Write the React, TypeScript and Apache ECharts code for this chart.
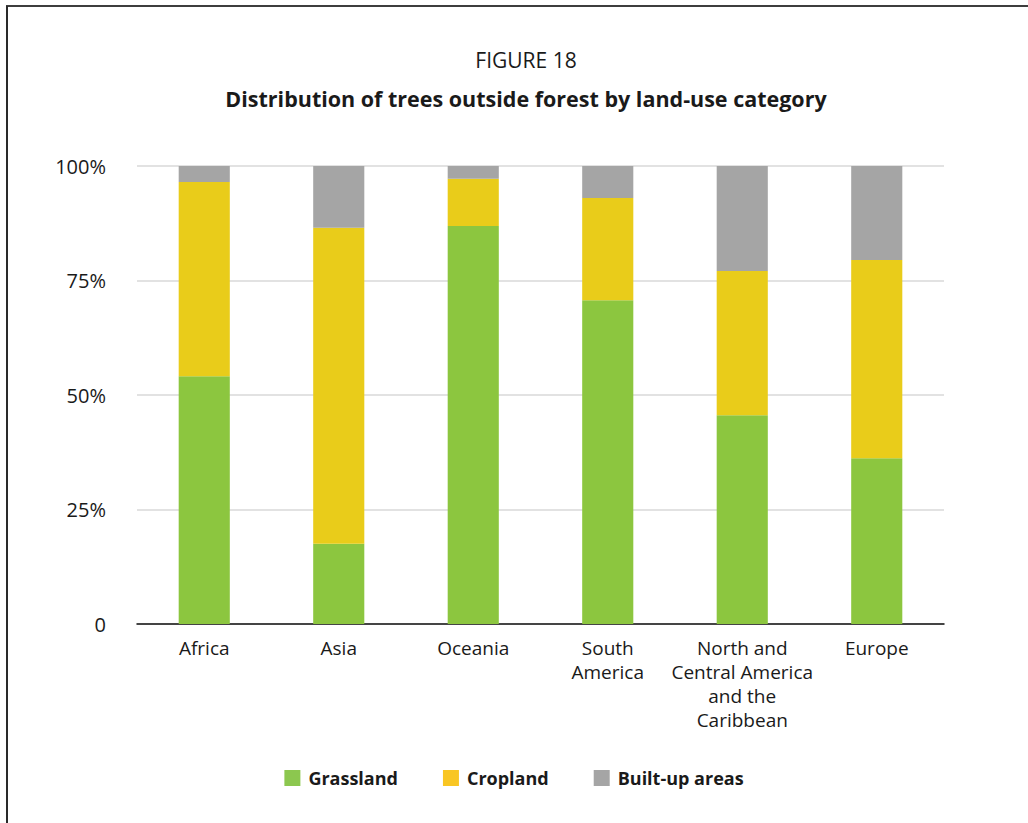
import React, { useEffect, useRef } from "react";
import * as echarts from "echarts";

const regions = [
  "Africa",
  "Asia",
  "Oceania",
  "South\nAmerica",
  "North and\nCentral America\nand the\nCaribbean",
  "Europe",
];
const grassland = [54.1, 17.5, 86.9, 70.7, 45.6, 36.2];
const cropland = [42.4, 69.0, 10.3, 22.3, 31.5, 43.3];
const builtUp = [3.5, 13.5, 2.8, 7.0, 22.9, 20.5];

const FONT = "'Open Sans', 'Noto Sans', sans-serif";
const TEXT = "#1a1a1a";

export default function App() {
  const ref = useRef<HTMLDivElement>(null);

  useEffect(() => {
    if (!ref.current) return;
    const chart = echarts.init(ref.current, null, { renderer: "svg" });
    chart.setOption({
      animation: false,
      backgroundColor: "#ffffff",
      textStyle: { fontFamily: FONT, color: TEXT },
      title: [
        {
          text: "FIGURE 18",
          left: 521,
          textAlign: "center",
          top: 44,
          textStyle: { fontFamily: FONT, fontSize: 21, fontWeight: "normal", color: TEXT },
        },
        {
          text: "Distribution of trees outside forest by land-use category",
          left: 521,
          textAlign: "center",
          top: 82,
          textStyle: { fontFamily: FONT, fontSize: 21.5, fontWeight: "bold", color: TEXT },
        },
      ],
      graphic: [
        { type: "line", shape: { x1: 6, y1: 6, x2: 1028, y2: 6 }, style: { stroke: "#3d3d3d", lineWidth: 2 } },
        { type: "line", shape: { x1: 7, y1: 6, x2: 7, y2: 823 }, style: { stroke: "#2a2a2a", lineWidth: 2 } },
      ],
      legend: {
        bottom: 31,
        left: "center",
        itemWidth: 16,
        itemHeight: 16,
        itemGap: 45,
        icon: "rect",
        textStyle: { fontFamily: FONT, fontSize: 18, fontWeight: "bold", color: TEXT, padding: [0, 0, 0, 3] },
        data: [
          { name: "Grassland", itemStyle: { color: "#8cc74f" } },
          { name: "Cropland", itemStyle: { color: "#f9c623" } },
          { name: "Built-up areas", itemStyle: { color: "#a5a5a5" } },
        ],
      },
      grid: { left: 137, right: 84, top: 166, bottom: 199 },
      xAxis: {
        type: "category",
        data: regions,
        axisLine: { show: true, lineStyle: { color: "#111", width: 1.5 } },
        axisTick: { show: false },
        axisLabel: {
          fontFamily: FONT,
          fontSize: 19,
          color: TEXT,
          lineHeight: 24,
          margin: 12,
          interval: 0,
          align: "center",
        },
      },
      yAxis: {
        type: "value",
        min: 0,
        max: 100,
        interval: 25,
        axisLine: { show: false },
        axisTick: { show: false },
        splitLine: { lineStyle: { color: "#d9d9d9", width: 1.5 } },
        axisLabel: {
          fontFamily: FONT,
          fontSize: 20,
          color: TEXT,
          margin: 31,
          formatter: (v: number) => (v === 0 ? "0" : `${v}%`),
        },
      },
      series: [
        { name: "Grassland", type: "bar", stack: "total", data: grassland, barWidth: "38%", itemStyle: { color: "#8cc63f" } },
        { name: "Cropland", type: "bar", stack: "total", data: cropland, barWidth: "38%", itemStyle: { color: "#e9cc1a" } },
        { name: "Built-up areas", type: "bar", stack: "total", data: builtUp, barWidth: "38%", itemStyle: { color: "#a5a5a5" } },
      ],
    });
    return () => chart.dispose();
  }, []);

  return (
    <div
      ref={ref}
      style={{ position: "absolute", left: 0, top: 0, width: 1028, height: 823 }}
    />
  );
}
